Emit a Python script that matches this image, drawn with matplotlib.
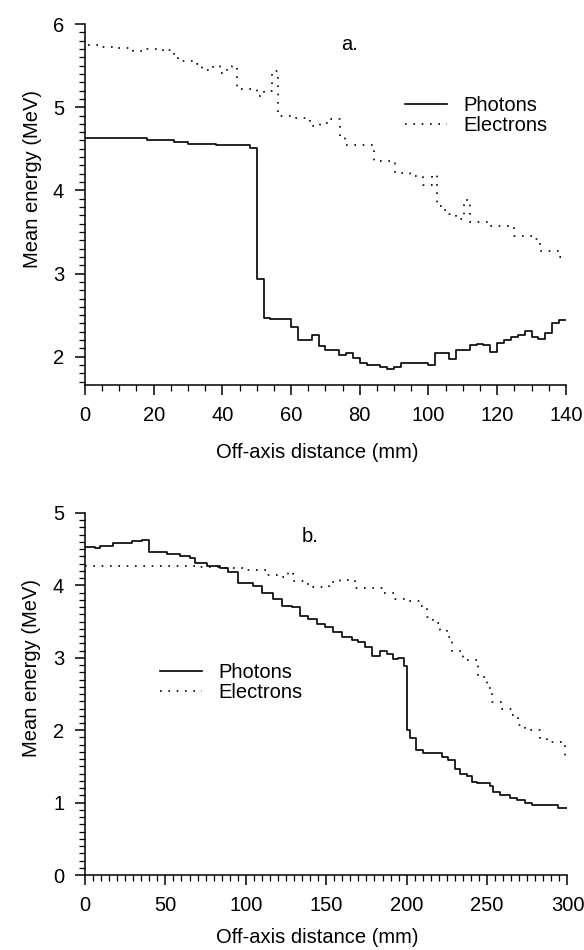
import numpy as np
import matplotlib
matplotlib.use("Agg")
import matplotlib.pyplot as plt
from matplotlib.ticker import MultipleLocator

plt.rcParams['font.family'] = ['Liberation Sans', 'DejaVu Sans']

# ---- panel a: 0-140 mm
a_phot_x = [0, 18, 26, 30, 38, 44, 48, 50, 52, 54, 60, 62, 66, 68, 70, 74, 76, 78, 80, 82,
            86, 88, 90, 92, 98, 100, 102, 104, 106, 108, 112, 114, 116, 118, 120, 122, 124,
            126, 128, 130, 132, 134, 136, 138, 140]
a_phot_y = [4.63, 4.61, 4.58, 4.56, 4.55, 4.54, 4.51, 2.94, 2.47, 2.45, 2.36, 2.20, 2.26, 2.13,
            2.08, 2.02, 2.05, 1.99, 1.93, 1.90, 1.88, 1.85, 1.88, 1.92, 1.93, 1.90, 2.04, 2.04,
            1.97, 2.08, 2.14, 2.15, 2.14, 2.06, 2.16, 2.20, 2.24, 2.26, 2.31, 2.24, 2.21, 2.28,
            2.40, 2.44, 2.44]
a_elec_x = [1, 4.4, 9.2, 14, 18, 22.8, 24.3, 26, 27.2, 30.6, 32.5, 34, 37.4, 39.3, 41.3, 42.7,
            44.2, 50, 52, 54.4, 56.3, 60, 65.5, 68.4, 70.9, 74.2, 75.7, 84, 90.3, 94.7, 98.5,
            101, 102.4, 104, 106, 108, 110.2, 112, 118, 124.8, 130.6, 132.5, 138.4, 140]
a_elec_y = [5.75, 5.72, 5.71, 5.68, 5.70, 5.67, 5.69, 5.59, 5.55, 5.56, 5.52, 5.45, 5.49, 5.41,
            5.47, 5.49, 5.22, 5.13, 5.19, 5.44, 4.89, 4.87, 4.78, 4.81, 4.86, 4.65, 4.55, 4.35,
            4.21, 4.17, 4.07, 4.18, 3.81, 3.77, 3.72, 3.66, 3.89, 3.62, 3.57, 3.45, 3.41, 3.27,
            3.20, 3.20]

# ---- panel b: 0-300 mm
b_phot_x = [0, 6.2, 9.3, 17.6, 29, 35.2, 40, 50.8, 59, 65.3, 68.4, 75.7, 83.9, 89.1, 95.3,
            104.7, 109.8, 117.1, 122.3, 128.5, 133.7, 138.8, 144, 149.2, 154.4, 159.6, 165.8,
            169.9, 174.1, 178.2, 183.4, 187.6, 191.7, 194.8, 198.3, 200, 202, 205.8, 210.3,
            213.4, 217.6, 221.8, 225.9, 230, 233.1, 237.3, 240.4, 243.5, 251.8, 253.9, 258,
            264.2, 268.4, 273.5, 277.7, 294.3, 300]
b_phot_y = [4.53, 4.51, 4.55, 4.59, 4.61, 4.63, 4.46, 4.44, 4.41, 4.38, 4.31, 4.27, 4.24, 4.18,
            4.03, 3.99, 3.89, 3.81, 3.72, 3.70, 3.58, 3.53, 3.47, 3.42, 3.35, 3.29, 3.25, 3.22,
            3.15, 3.02, 3.10, 3.05, 2.98, 3.00, 2.89, 2.01, 1.89, 1.73, 1.68, 1.69, 1.68, 1.63,
            1.59, 1.47, 1.40, 1.37, 1.29, 1.27, 1.23, 1.15, 1.11, 1.06, 1.03, 1.00, 0.97, 0.92,
            0.92]
b_elec_x = [0, 71.5, 83.9, 100.4, 112.8, 121.1, 126.2, 129.3, 137, 142, 152, 158.5, 167.8,
            179.2, 185.4, 192.7, 200, 208.3, 212.4, 216.6, 220.7, 224.9, 228, 235.3, 244.6,
            249.8, 252.9, 259.1, 265.3, 269.5, 273.6, 283, 287.1, 296.4, 298.5, 300]
b_elec_y = [4.27, 4.25, 4.24, 4.21, 4.14, 4.12, 4.19, 4.06, 4.02, 3.98, 4.05, 4.08, 3.96, 3.97,
            3.89, 3.81, 3.79, 3.71, 3.57, 3.48, 3.38, 3.29, 3.09, 2.97, 2.74, 2.58, 2.39, 2.30,
            2.21, 2.07, 2.00, 1.89, 1.84, 1.80, 1.60, 1.60]

FS = 14.5
dots = (0, (1, 4))

fig = plt.figure(figsize=(5.84, 9.5), dpi=100)
ax1 = fig.add_axes([0.1455, 0.5947, 0.8235, 0.38])
ax2 = fig.add_axes([0.1455, 0.0789, 0.8262, 0.3811])

# ax, photons, electrons, xlim, ylim, major x step, tag, tag pos, legend pos, xlabel y
panels = [
    (ax1, a_phot_x, a_phot_y, a_elec_x, a_elec_y, (0, 140), (1.66, 6.0), 20, "a.", (0.551, 0.942), (0.665, 0.80), -0.188),
    (ax2, b_phot_x, b_phot_y, b_elec_x, b_elec_y, (0, 300), (0, 5), 50, "b.", (0.466, 0.934), (0.155, 0.585), -0.172),
]

for ax, px, py, ex, ey, xl, yl, xmaj, tag, tagpos, legpos, xlab_y in panels:
    ax.plot(px, py, drawstyle='steps-post', color='black', lw=1.2, label='Photons')
    ax.plot(ex, ey, drawstyle='steps-post', color='black', lw=1.2, ls=dots, label='Electrons')
    ax.set_xlim(*xl)
    ax.set_ylim(*yl)
    for s in ['top', 'right']:
        ax.spines[s].set_visible(False)
    for s in ['left', 'bottom']:
        ax.spines[s].set_linewidth(1.1)
    ax.xaxis.set_major_locator(MultipleLocator(xmaj))
    ax.xaxis.set_minor_locator(MultipleLocator(5))
    ax.yaxis.set_major_locator(MultipleLocator(1))
    ax.yaxis.set_minor_locator(MultipleLocator(0.1))
    ax.tick_params(which='major', direction='out', length=7, width=1.1, labelsize=FS, pad=8)
    ax.tick_params(which='minor', direction='out', length=4, width=0.9)
    ax.set_xlabel('Off-axis distance (mm)', fontsize=FS, va='center')
    ax.set_ylabel('Mean energy (MeV)', fontsize=FS, va='center')
    ax.xaxis.set_label_coords(0.482, xlab_y)
    ax.yaxis.set_label_coords(-0.11, 0.572)
    ax.text(tagpos[0], tagpos[1], tag, transform=ax.transAxes, fontsize=FS, ha='center', va='center')
    ax.legend(loc='upper left', bbox_to_anchor=legpos, frameon=False, fontsize=FS,
              handlelength=2.1, handletextpad=0.8, labelspacing=0.05,
              borderaxespad=0, borderpad=0)

fig.savefig('out.png', dpi=100)
